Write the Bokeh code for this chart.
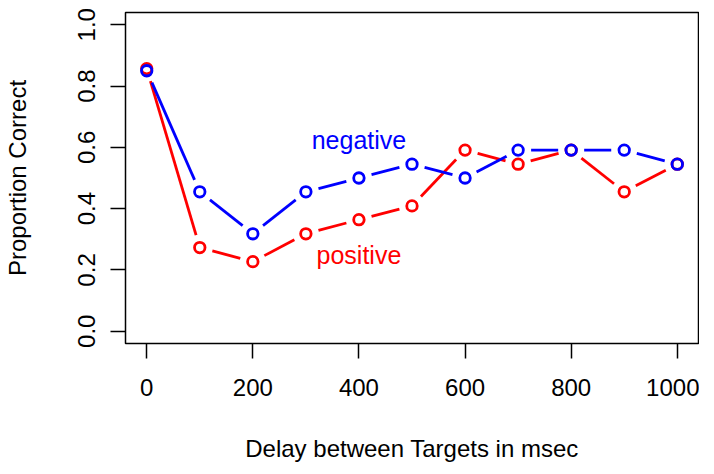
import math
from bokeh.plotting import figure
from bokeh.models import FixedTicker, Range1d, Label
from bokeh.embed import file_html
from bokeh.resources import INLINE

# ---- data ----
delay = [0, 100, 200, 300, 400, 500, 600, 700, 800, 900, 1000]
negative = [0.850, 0.455, 0.318, 0.455, 0.500, 0.545, 0.500, 0.591, 0.591, 0.591, 0.545]
positive = [0.857, 0.273, 0.227, 0.318, 0.364, 0.409, 0.591, 0.545, 0.591, 0.455, 0.545]
x_ticks = [0, 200, 400, 600, 800, 1000]
y_ticks = [0.0, 0.2, 0.4, 0.6, 0.8, 1.0]
y_tick_labels = ["0.0", "0.2", "0.4", "0.6", "0.8", "1.0"]

FONT = "Liberation Sans"
FW, FH = 573, 331
XR = (-40, 1040)
YR = (-0.04, 1.04)

p = figure(width=698, height=458, frame_width=FW, frame_height=FH,
           output_backend="svg", toolbar_location=None,
           x_range=Range1d(*XR), y_range=Range1d(*YR),
           min_border_left=124, min_border_top=12, min_border_right=1,
           min_border_bottom=115)
p.xgrid.visible = False
p.ygrid.visible = False
p.outline_line_color = "black"
p.outline_line_width = 1.5
p.background_fill_color = "white"
p.border_fill_color = "white"

for ax in (p.xaxis[0], p.yaxis[0]):
    ax.axis_line_color = None
    ax.major_tick_out = 15
    ax.major_tick_in = 0
    ax.major_tick_line_width = 1.5
    ax.minor_tick_line_color = None
    ax.major_label_text_font = FONT
    ax.major_label_text_font_size = "24px"
    ax.major_label_text_color = "black"
    ax.axis_label_text_font = FONT
    ax.axis_label_text_font_size = "24px"
    ax.axis_label_text_font_style = "normal"
    ax.axis_label_text_color = "black"

p.xaxis.ticker = FixedTicker(ticks=x_ticks)
p.yaxis.ticker = FixedTicker(ticks=y_ticks)
p.yaxis.major_label_overrides = {t: l for t, l in zip(y_ticks, y_tick_labels)}
p.yaxis.major_label_orientation = "vertical"
p.xaxis.major_label_standoff = 20
p.yaxis.major_label_standoff = 15
p.xaxis.axis_label = "Delay between Targets in msec"
p.yaxis.axis_label = "Proportion Correct"
p.xaxis.axis_label_standoff = 36
p.yaxis.axis_label_standoff = 45

sx = FW / (XR[1] - XR[0])
sy = FH / (YR[1] - YR[0])
GAP = 13.0


def gapped(xs, ys):
    x0, y0, x1, y1 = [], [], [], []
    for i in range(len(xs) - 1):
        ddx = xs[i + 1] - xs[i]
        ddy = ys[i + 1] - ys[i]
        L = math.hypot(ddx * sx, ddy * sy)
        if L <= 2 * GAP:
            continue
        f = GAP / L
        x0.append(xs[i] + ddx * f)
        y0.append(ys[i] + ddy * f)
        x1.append(xs[i + 1] - ddx * f)
        y1.append(ys[i + 1] - ddy * f)
    return x0, y0, x1, y1


for ys, col in ((positive, "#ff0000"), (negative, "#0000ff")):
    x0, y0, x1, y1 = gapped(delay, ys)
    p.segment(x0=x0, y0=y0, x1=x1, y1=y1, line_color=col, line_width=2.8,
              line_cap="butt")
    p.scatter(delay, ys, marker="circle", size=10.5, fill_color=None,
              line_color=col, line_width=2.8)

p.add_layout(Label(x=400, y=0.625, text="negative", text_color="#0000ff",
                   text_font=FONT, text_font_size="25px", text_align="center",
                   text_baseline="middle"))
p.add_layout(Label(x=400, y=0.25, text="positive", text_color="#ff0000",
                   text_font=FONT, text_font_size="25px", text_align="center",
                   text_baseline="middle"))

open("out.html", "w").write(file_html(p, INLINE))
